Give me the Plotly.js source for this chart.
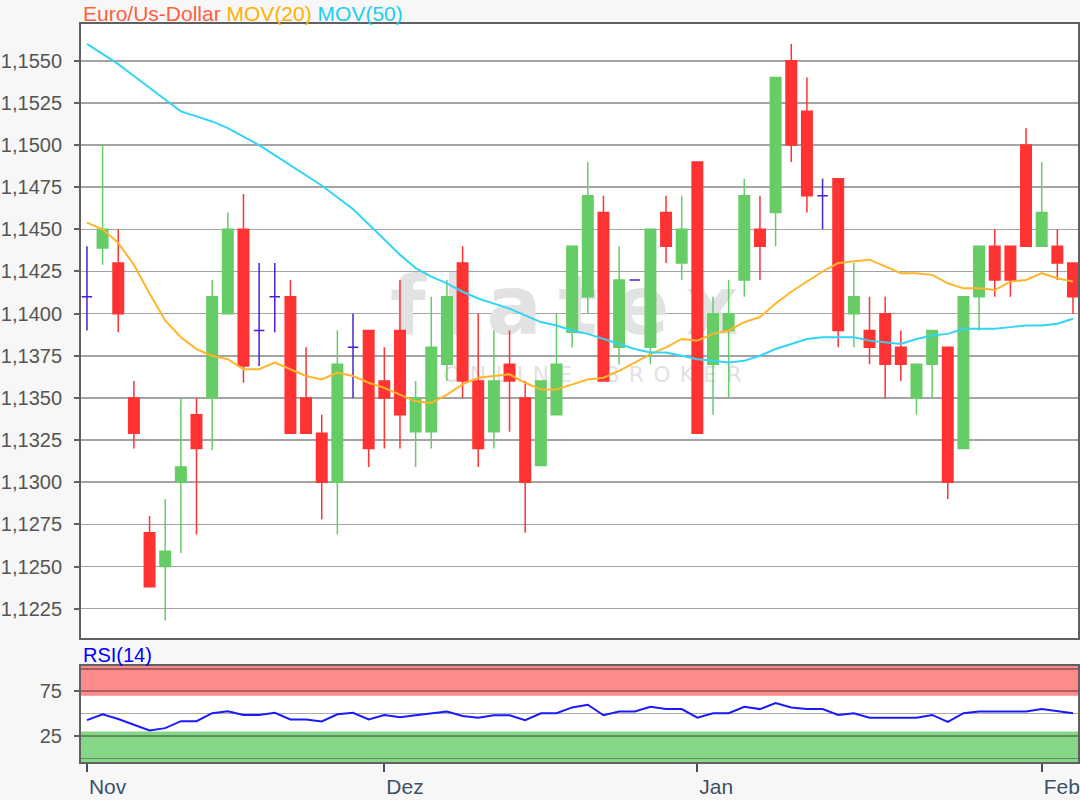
<!DOCTYPE html>
<html>
<head>
<meta charset="utf-8">
<script src="https://cdn.plot.ly/plotly-3.0.1.min.js"></script>
<style>
html,body{margin:0;padding:0;background:#f7f7f7;}
#chart{width:1080px;height:800px;}
</style>
</head>
<body>
<div id="chart"></div>
<script>
// ---- data ----
const openV  = [1.1410,1.1439,1.1430,1.1350,1.1270,1.1250,1.1300,1.1340,1.1350,1.1400,
                1.1450,1.1390,1.1410,1.1410,1.1350,1.1329,1.1300,1.1380,1.1390,1.1360,
                1.1390,1.1330,1.1330,1.1370,1.1430,1.1360,1.1330,1.1370,1.1350,1.1310,
                1.1340,1.1389,1.1410,1.1460,1.1380,1.1420,1.1380,1.1460,1.1430,1.1490,
                1.1370,1.1390,1.1420,1.1450,1.1460,1.1550,1.1520,1.1470,1.1480,1.1400,
                1.1390,1.1400,1.1380,1.1350,1.1370,1.1380,1.1320,1.1410,1.1440,1.1440,
                1.1500,1.1440,1.1440,1.1430];
const highV  = [1.1440,1.1500,1.1450,1.1360,1.1280,1.1290,1.1350,1.1350,1.1420,1.1460,
                1.1471,1.1430,1.1430,1.1420,1.1380,1.1340,1.1390,1.1400,1.1390,1.1380,
                1.1420,1.1360,1.1410,1.1420,1.1440,1.1400,1.1390,1.1390,1.1360,1.1360,
                1.1400,1.1440,1.1490,1.1470,1.1440,1.1420,1.1450,1.1470,1.1470,1.1490,
                1.1410,1.1420,1.1480,1.1470,1.1540,1.1560,1.1540,1.1480,1.1480,1.1430,
                1.1410,1.1410,1.1390,1.1370,1.1390,1.1380,1.1410,1.1440,1.1450,1.1440,
                1.1510,1.1490,1.1450,1.1430];
const lowV   = [1.1390,1.1429,1.1389,1.1320,1.1238,1.1218,1.1258,1.1269,1.1319,1.1400,
                1.1359,1.1369,1.1389,1.1329,1.1329,1.1278,1.1269,1.1350,1.1309,1.1320,
                1.1320,1.1309,1.1320,1.1360,1.1350,1.1309,1.1320,1.1330,1.1270,1.1310,
                1.1340,1.1380,1.1400,1.1360,1.1370,1.1420,1.1370,1.1430,1.1420,1.1329,
                1.1340,1.1350,1.1410,1.1420,1.1440,1.1490,1.1460,1.1450,1.1380,1.1380,
                1.1370,1.1350,1.1360,1.1340,1.1350,1.1290,1.1320,1.1390,1.1410,1.1410,
                1.1440,1.1440,1.1420,1.1400];
const closeV = [1.1410,1.1450,1.1400,1.1329,1.1238,1.1259,1.1309,1.1320,1.1410,1.1450,
                1.1369,1.1390,1.1410,1.1329,1.1329,1.1300,1.1370,1.1380,1.1320,1.1350,
                1.1340,1.1350,1.1380,1.1410,1.1360,1.1320,1.1360,1.1360,1.1300,1.1360,
                1.1370,1.1440,1.1470,1.1360,1.1420,1.1420,1.1450,1.1440,1.1450,1.1329,
                1.1400,1.1400,1.1470,1.1440,1.1540,1.1500,1.1470,1.1470,1.1390,1.1410,
                1.1380,1.1370,1.1370,1.1370,1.1390,1.1300,1.1410,1.1440,1.1420,1.1420,
                1.1440,1.1460,1.1430,1.1410];
const mov20  = [1.1454,1.1450,1.1442,1.1429,1.1412,1.1396,1.1386,1.1379,1.1375,1.1373,
                1.1367,1.1367,1.1371,1.1367,1.1363,1.1361,1.1365,1.1363,1.1359,1.1356,
                1.1352,1.1348,1.1347,1.1352,1.1358,1.1362,1.1363,1.1364,1.1359,1.1355,
                1.1355,1.1358,1.1361,1.1362,1.1366,1.1371,1.1376,1.1380,1.1385,1.1384,
                1.1388,1.1390,1.1395,1.1398,1.1406,1.1413,1.1419,1.1425,1.1430,1.1431,
                1.1432,1.1428,1.1424,1.1424,1.1423,1.1418,1.1415,1.1415,1.1414,1.1419,
                1.1420,1.1424,1.1421,1.1419];
const mov50  = [1.1560,1.1554,1.1548,1.1541,1.1534,1.1527,1.1520,1.1517,1.1514,1.1510,
                1.1505,1.1500,1.1494,1.1488,1.1482,1.1476,1.1469,1.1462,1.1453,1.1444,
                1.1435,1.1427,1.1422,1.1418,1.1413,1.1409,1.1406,1.1403,1.1399,1.1395,
                1.1393,1.1390,1.1388,1.1385,1.1382,1.1379,1.1377,1.1377,1.1375,1.1373,
                1.1372,1.1371,1.1372,1.1375,1.1379,1.1382,1.1385,1.1386,1.1386,1.1386,
                1.1384,1.1383,1.1382,1.1385,1.1387,1.1388,1.1391,1.1391,1.1391,1.1392,
                1.1393,1.1393,1.1394,1.1397];
const rsi14  = [42.7,49.2,44.0,37.5,31.2,33.8,41.5,41.5,50.4,52.7,
                48.5,48.5,50.8,43.5,43.5,41.2,49.2,50.8,43.5,48.5,
                45.8,48.1,50.0,52.3,47.3,45.4,48.1,48.1,42.7,50.4,
                50.4,56.9,59.9,48.1,52.3,52.3,57.6,55.0,55.0,45.4,
                50.4,50.4,57.6,55.0,61.8,56.9,55.0,55.0,48.5,50.4,
                45.4,45.4,45.4,45.4,48.5,40.8,50.4,52.3,52.3,52.3,
                52.3,55.0,53.0,50.4];
const monthTickPos  = [0, 19, 39, 61];
const monthTickText = ['Nov', 'Dez', 'Jan', 'Feb'];
const priceTicks = [1.1225,1.1250,1.1275,1.1300,1.1325,1.1350,1.1375,1.1400,
                    1.1425,1.1450,1.1475,1.1500,1.1525,1.1550];
const rsiTicks = [25, 75];
const rsiGrid  = [0, 50, 100];
const seriesNames = ['Euro/Us-Dollar', 'MOV(20)', 'MOV(50)'];
const rsiName = 'RSI(14)';
const watermarkLogo = 'flatex';
const watermarkSub  = 'ONLINE BROKER';

// ---- build traces ----
const idx = openV.map((_, i) => i);
const regular = idx.filter(i => openV[i] !== closeV[i]);
const doji = idx.filter(i => openV[i] === closeV[i]);
const pick = (arr, ids) => ids.map(i => arr[i]);
// letter-spaced watermark strings (thin / no-break spaces between letters)
const spaced = (s, gap) => s.split('').map(ch => ch === ' ' ? '\u00a0\u00a0' : ch).join(gap);

const GREEN = '#66cc66', RED = '#ff3333', DOJI = '#4b1fd6';
const C_EUR = '#ff6040', C_M20 = '#ffb42a', C_M50 = '#33d4f6';
const WM = '#e2e2e2';

const traces = [
  { type:'scatter', mode:'text', x:[30.5], y:[1.1400],
    text:[spaced(watermarkLogo, '\u2009')], textposition:'middle center',
    textfont:{ family:'DejaVu Sans', size:82, weight:'bold', color:WM },
    hoverinfo:'skip', xaxis:'x', yaxis:'y' },
  { type:'scatter', mode:'text', x:[32.3], y:[1.1363],
    text:[spaced(watermarkSub, '\u00a0\u200a')], textposition:'middle center',
    textfont:{ family:'DejaVu Sans', size:22, color:WM },
    hoverinfo:'skip', xaxis:'x', yaxis:'y' },
  { type:'candlestick', name: seriesNames[0], x: regular,
    open: pick(openV, regular), high: pick(highV, regular),
    low: pick(lowV, regular), close: pick(closeV, regular),
    increasing:{ line:{ color:GREEN, width:1.5 }, fillcolor:GREEN },
    decreasing:{ line:{ color:RED, width:1.5 }, fillcolor:RED },
    whiskerwidth:0, xaxis:'x', yaxis:'y3' },
  { type:'candlestick', name: seriesNames[0], x: doji,
    open: pick(openV, doji), high: pick(highV, doji),
    low: pick(lowV, doji), close: pick(closeV, doji),
    increasing:{ line:{ color:DOJI, width:1.5 }, fillcolor:DOJI },
    decreasing:{ line:{ color:DOJI, width:1.5 }, fillcolor:DOJI },
    whiskerwidth:0, xaxis:'x', yaxis:'y3' },
  { type:'scatter', mode:'lines', name: seriesNames[1], x: idx, y: mov20,
    line:{ color:C_M20, width:2 }, xaxis:'x', yaxis:'y3' },
  { type:'scatter', mode:'lines', name: seriesNames[2], x: idx, y: mov50,
    line:{ color:C_M50, width:2 }, xaxis:'x', yaxis:'y3' },
  { type:'scatter', mode:'lines', name: rsiName, x: idx, y: rsi14,
    line:{ color:'#1a1aff', width:2 }, xaxis:'x2', yaxis:'y2' }
];

const XR = [-0.38, 63.32];
const YR = [1.12076, 1.15718];
const RR = [-4, 103.1];
const FRAME = '#606060';

const layout = {
  width:1080, height:800,
  paper_bgcolor:'#f7f7f7', plot_bgcolor:'#ffffff',
  margin:{ l:81, r:2, t:24, b:38, pad:0 },
  showlegend:false,
  separators:',.',
  font:{ family:'Liberation Sans, Arial, sans-serif', size:20, color:'#555555' },
  boxmode:'overlay', boxgap:0.33, boxgroupgap:0,
  hovermode:false,
  xaxis:{ domain:[0,1], anchor:'y', range:XR, showticklabels:false, ticks:'',
          showgrid:false, zeroline:false, showline:true, mirror:true,
          linecolor:FRAME, linewidth:2, rangeslider:{ visible:false } },
  yaxis:{ domain:[0.168,1], anchor:'x', range:YR, tickmode:'array', tickvals:priceTicks,
          tickformat:'.4f', ticks:'outside', ticklen:5, tickwidth:2, tickcolor:FRAME,
          showgrid:true, gridcolor:'#a4a4a4', gridwidth:1.5, zeroline:false,
          showline:true, mirror:true, linecolor:FRAME, linewidth:2,
          tickfont:{ size:20, color:'#555555' }, ticklabelstandoff:8 },
  yaxis3:{ overlaying:'y', anchor:'x', range:YR, showgrid:false, zeroline:false,
           showticklabels:false, ticks:'', showline:false },
  xaxis2:{ domain:[0,1], anchor:'y2', range:XR, tickmode:'array', tickvals:monthTickPos,
           ticktext:monthTickText, ticks:'outside', ticklen:8, tickwidth:2,
           tickcolor:'#3d5068', tickfont:{ size:21, color:'#3d5068' },
           ticklabelposition:'outside right', ticklabelstandoff:5,
           showgrid:false, zeroline:false,
           showline:true, mirror:true, linecolor:FRAME, linewidth:2 },
  yaxis2:{ domain:[0,0.1301], anchor:'x2', range:RR, tickmode:'array', tickvals:rsiTicks,
           ticks:'outside', ticklen:5, tickwidth:2, tickcolor:FRAME,
           showgrid:true, gridcolor:'rgba(0,0,0,0.33)', gridwidth:1.5,
           minor:{ tickmode:'array', tickvals:rsiGrid, showgrid:true,
                   gridcolor:'rgba(0,0,0,0.33)', gridwidth:1.5, ticks:'' },
           zeroline:false, showline:true, mirror:true, linecolor:FRAME, linewidth:2,
           tickfont:{ size:20, color:'#555555' }, ticklabelstandoff:8 },
  shapes:[
    { type:'rect', xref:'x2 domain', yref:'y2', x0:0, x1:1, y0:70, y1:RR[1],
      fillcolor:'#ff8a8a', line:{ width:0 }, layer:'below' },
    { type:'rect', xref:'x2 domain', yref:'y2', x0:0, x1:1, y0:RR[0], y1:30,
      fillcolor:'#88d788', line:{ width:0 }, layer:'below' }
  ],
  annotations:[
    { xref:'paper', yref:'paper', x:0, y:1, xanchor:'left', yanchor:'bottom',
      showarrow:false, yshift:-3, font:{ size:21 },
      text:'<span style="color:'+C_EUR+'">'+seriesNames[0]+'</span> '+
           '<span style="color:#ffb000">'+seriesNames[1]+'</span> '+
           '<span style="color:#22ccf5">'+seriesNames[2]+'</span>' },
    { xref:'paper', yref:'y2 domain', x:0, y:1, xanchor:'left', yanchor:'bottom',
      showarrow:false, yshift:-2, font:{ size:20, color:'#0000ff' }, text: rsiName }
  ]
};

Plotly.newPlot('chart', traces, layout, { displayModeBar:false, staticPlot:true });
</script>
</body>
</html>
